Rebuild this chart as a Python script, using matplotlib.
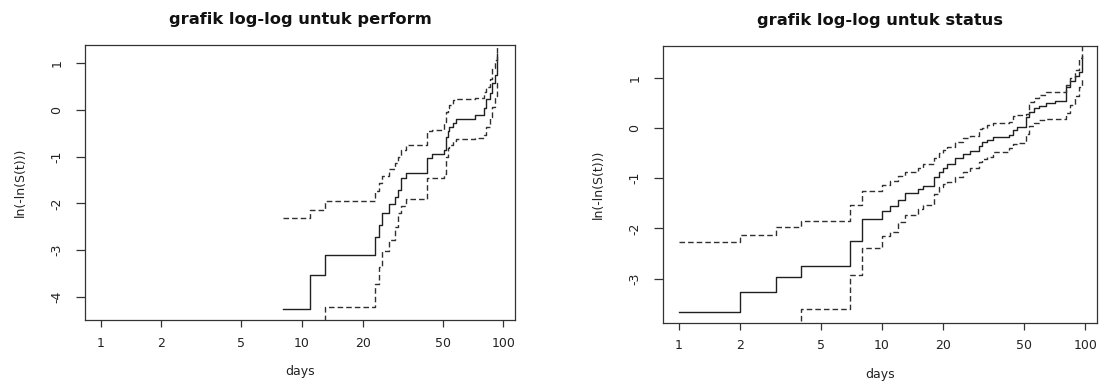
import matplotlib
matplotlib.use("Agg")
import matplotlib.pyplot as plt

plt.rcParams["font.family"] = ["DejaVu Sans"]
plt.rcParams["axes.unicode_minus"] = False

# --- perform: ln(-ln(S(t))) with confidence band
perform_days = [8, 11, 13, 23, 24, 25, 27, 29, 30, 31, 33, 42, 44, 51, 52, 53,
                54, 56, 58, 72, 80, 82, 86, 88, 91, 93]
perform_est = [-4.27, -3.54, -3.10, -2.73, -2.46, -2.21, -2.01, -1.86, -1.71,
               -1.46, -1.34, -1.03, -0.95, -0.86, -0.58, -0.46, -0.37, -0.28,
               -0.20, -0.11, 0.05, 0.23, 0.36, 0.57, 0.75, 1.20]
perform_upper = [-2.31, -2.15, -1.96, -1.73, -1.56, -1.42, -1.27, -1.14, -1.00,
                 -0.86, -0.76, -0.45, -0.42, -0.25, -0.05, 0.04, 0.10, 0.21,
                 0.23, 0.26, 0.39, 0.50, 0.66, 0.89, 1.07, 1.50]
perform_lower = [-4.9, -4.7, -4.23, -3.72, -3.36, -3.02, -2.78, -2.50, -2.21,
                 -2.06, -1.91, -1.46, -1.45, -1.38, -1.00, -0.82, -0.75, -0.66,
                 -0.63, -0.60, -0.54, -0.36, -0.14, 0.07, 0.29, 0.64]

# --- status
status_days = [1, 2, 3, 4, 7, 8, 10, 11, 12, 13, 15, 16, 18, 19, 20, 21, 23,
               25, 27, 30, 31, 33, 35, 42, 44, 46, 51, 53, 56, 59, 64, 71, 80,
               84, 89, 93, 96]
status_est = [-3.67, -3.26, -2.97, -2.74, -2.25, -1.81, -1.65, -1.55, -1.43,
              -1.30, -1.21, -1.15, -0.97, -0.88, -0.79, -0.72, -0.60, -0.51,
              -0.46, -0.36, -0.28, -0.25, -0.19, -0.14, -0.04, 0.01, 0.21,
              0.32, 0.39, 0.44, 0.49, 0.53, 0.81, 0.93, 1.03, 1.12, 1.43]
status_upper = [-2.27, -2.13, -1.98, -1.85, -1.54, -1.26, -1.13, -1.05, -0.96,
                -0.87, -0.79, -0.72, -0.59, -0.49, -0.43, -0.37, -0.29, -0.21,
                -0.17, -0.03, 0.00, 0.05, 0.09, 0.12, 0.23, 0.25, 0.28, 0.52,
                0.59, 0.65, 0.71, 0.72, 0.85, 1.00, 1.15, 1.40, 1.65]
status_lower = [-4.5, -4.2, -3.95, -3.60, -2.93, -2.38, -2.16, -2.07, -1.88,
                -1.74, -1.61, -1.54, -1.32, -1.17, -1.12, -1.07, -0.97, -0.88,
                -0.80, -0.67, -0.62, -0.57, -0.48, -0.40, -0.32, -0.30, -0.13,
                0.03, 0.09, 0.16, 0.17, 0.18, 0.30, 0.46, 0.64, 0.82, 0.97]

x_ticks = [1, 2, 5, 10, 20, 50, 100]
perform_yticks = [1, 0, -1, -2, -3, -4]
status_yticks = [1, 0, -1, -2, -3]


def loglog_panel(ax, days, est, lower, upper, title, yticks, ylim):
    ax.step(days, est, where="post", color="#202020", lw=1.0)
    for band in (lower, upper):
        ax.step(days, band, where="post", color="#303030", lw=1.0,
                linestyle=(0, (4, 2.2)))
    ax.set_xscale("log")
    ax.set_xlim(10 ** -0.078, 10 ** 2.058)
    ax.set_ylim(*ylim)
    ax.set_xticks(x_ticks)
    ax.set_xticklabels([str(v) for v in x_ticks])
    ax.minorticks_off()
    ax.set_yticks(yticks)
    ax.set_yticklabels([str(v) for v in yticks], rotation=90, va="center")
    ax.tick_params(axis="x", length=5, width=0.9, pad=7, labelsize=9,
                   colors="#333333", labelcolor="#222222")
    ax.tick_params(axis="y", length=6.5, width=0.9, pad=9, labelsize=9,
                   colors="#333333", labelcolor="#222222")
    for s in ax.spines.values():
        s.set_color("#333333")
        s.set_linewidth(0.9)
    ax.set_title(title, fontsize=11.7, fontweight="bold", pad=15, color="#111111")
    ax.set_xlabel("days", fontsize=9, labelpad=11, color="#222222")
    ax.set_ylabel("ln(-ln(S(t)))", fontsize=9, labelpad=17, color="#222222")


fig = plt.figure(figsize=(11.04, 3.82), dpi=100)
ax1 = fig.add_axes([0.0770, 0.1623, 0.3895, 0.7207])
ax2 = fig.add_axes([0.6003, 0.1552, 0.3934, 0.7244])

loglog_panel(ax1, perform_days, perform_est, perform_lower, perform_upper,
             "grafik log-log untuk perform", perform_yticks, (-4.50, 1.40))
loglog_panel(ax2, status_days, status_est, status_lower, status_upper,
             "grafik log-log untuk status", status_yticks, (-3.876, 1.63))

fig.savefig("out.png", dpi=100)
plt.close(fig)
